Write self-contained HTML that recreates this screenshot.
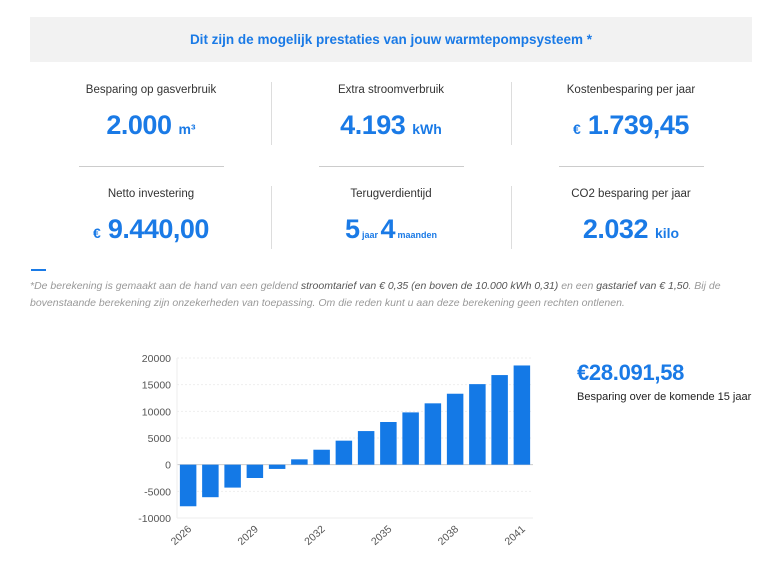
<!DOCTYPE html>
<html><head><meta charset="utf-8"><style>
body{margin:0;width:781px;height:567px;background:#fff;font-family:"Liberation Sans",sans-serif;position:relative;overflow:hidden}
.hdr{position:absolute;left:30px;top:17px;width:722px;height:45px;background:#f2f2f2;text-align:center;line-height:45px;color:#1a7ae6;font-weight:bold;font-size:13.5px}
.cell{position:absolute;width:240px;text-align:center}
.lab{font-size:11.5px;color:#333;margin-top:2px}
.val{font-size:27px;font-weight:bold;color:#1a7ae6;margin-top:14px;letter-spacing:-0.5px}
.val small{font-size:14px;letter-spacing:0}
.val .xs{font-size:9px;letter-spacing:0}
.vd{position:absolute;width:1px;background:#ddd}
.hd{position:absolute;height:1px;background:#ccc;width:145px;top:166px}
.note{position:absolute;left:30px;top:278px;width:720px;font-style:italic;font-size:10.5px;color:#999;line-height:17px}
.note b{color:#555;font-weight:normal}
</style></head><body>
<div class="hdr">Dit zijn de mogelijk prestaties van jouw warmtepompsysteem *</div>
<div class="vd" style="left:271px;top:82px;height:63px"></div>
<div class="vd" style="left:511px;top:82px;height:63px"></div>
<div class="vd" style="left:271px;top:186px;height:63px"></div>
<div class="vd" style="left:511px;top:186px;height:63px"></div>
<div class="hd" style="left:79px"></div>
<div class="hd" style="left:319px"></div>
<div class="hd" style="left:559px"></div>

<div class="cell" style="left:31px;top:82px"><div class="lab">Besparing op gasverbruik</div><div class="val">2.000 <small>m³</small></div></div>
<div class="cell" style="left:271px;top:82px"><div class="lab">Extra stroomverbruik</div><div class="val">4.193 <small>kWh</small></div></div>
<div class="cell" style="left:511px;top:82px"><div class="lab">Kostenbesparing per jaar</div><div class="val"><small>€</small> 1.739,45</div></div>
<div class="cell" style="left:31px;top:186px"><div class="lab">Netto investering</div><div class="val"><small>€</small> 9.440,00</div></div>
<div class="cell" style="left:271px;top:186px"><div class="lab">Terugverdientijd</div><div class="val">5<span class="xs"> jaar </span>4<span class="xs"> maanden</span></div></div>
<div class="cell" style="left:511px;top:186px"><div class="lab">CO2 besparing per jaar</div><div class="val">2.032 <small>kilo</small></div></div>

<div style="position:absolute;left:31px;top:269px;width:15px;height:1.5px;background:#1a7ae6"></div>
<div class="note">*De berekening is gemaakt aan de hand van een geldend <b>stroomtarief van € 0,35 (en boven de 10.000 kWh 0,31)</b> en een <b>gastarief van € 1,50</b>. Bij de bovenstaande berekening zijn onzekerheden van toepassing. Om die reden kunt u aan deze berekening geen rechten ontlenen.</div>

<div style="position:absolute;left:577px;top:360px;font-size:22px;font-weight:bold;color:#1a7ae6;letter-spacing:-0.3px">€28.091,58</div>
<div style="position:absolute;left:577px;top:391px;font-size:11px;color:#222">Besparing over de komende 15 jaar</div>

<svg id="chart" width="781" height="567" style="position:absolute;left:0;top:0"></svg>
<script>
const years=[2026,2027,2028,2029,2030,2031,2032,2033,2034,2035,2036,2037,2038,2039,2040,2041];
const values=[-7800,-6100,-4300,-2500,-800,1000,2800,4500,6300,8000,9800,11500,13300,15100,16800,18600];
const yTicks=[20000,15000,10000,5000,0,-5000,-10000];
const xTickYears=[2026,2029,2032,2035,2038,2041];
const svg=document.getElementById('chart');
const NS='http://www.w3.org/2000/svg';
const x0=177,x1=533,yTop=358,yBot=518,vMax=20000,vMin=-10000;
function y(v){return yTop+(vMax-v)/(vMax-vMin)*(yBot-yTop);}
const step=(x1-x0)/years.length;
function xc(i){return x0+step*(i+0.5);}
function mk(t,a){const e=document.createElementNS(NS,t);for(const k in a)e.setAttribute(k,a[k]);svg.appendChild(e);return e;}
yTicks.forEach(t=>{
 const l=mk('line',{x1:x0,x2:x1,y1:y(t),y2:y(t),stroke:t===0?'#ccc':'#eee','stroke-dasharray':t===0||t===vMin?'':'2,2'});
 
 
 const tx=mk('text',{x:x0-6,y:y(t)+4,'text-anchor':'end','font-size':'10.5','fill':'#555','font-family':'Liberation Sans,sans-serif'});
 tx.textContent=t;
 
 
});
const ax=mk('line',{x1:x0,x2:x0,y1:yTop,y2:yBot,stroke:'#eee'});


values.forEach((v,i)=>{
 const bw=16.5;
 const r=mk('rect',{x:xc(i)-bw/2,y:Math.min(y(v),y(0)),width:bw,height:Math.abs(y(v)-y(0)),fill:'#1479e6'});
 
 
});
xTickYears.forEach(yr=>{
 const i=years.indexOf(yr);
 const px=xc(i)+4,py=yBot+12;
 const t=mk('text',{x:px,y:py,'text-anchor':'end','font-size':'10.5','fill':'#555','font-family':'Liberation Sans,sans-serif',transform:`rotate(-42 ${px} ${py})`});
 t.textContent=yr;
 
 
});
</script>
</body></html>
